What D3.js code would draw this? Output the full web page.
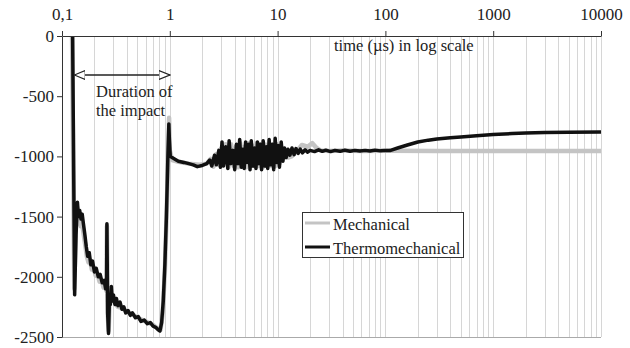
<!DOCTYPE html>
<html>
<head>
<meta charset="utf-8">
<script src="https://cdn.jsdelivr.net/npm/d3@7"></script>
<style>
  body { margin: 0; background: #fff; }
  svg text { font-family: "Liberation Serif", "Times New Roman", Times, "DejaVu Serif", serif; fill: #222; }
</style>
</head>
<body>
<svg id="chart" width="630" height="348"></svg>
<script>
// time (us) and stress values
const thermoTime = [0.1255, 0.131, 0.135, 0.139, 0.142, 0.146, 0.150, 0.154, 0.158, 0.163, 0.168, 0.173, 0.179, 0.185, 0.192, 0.200, 0.208, 0.217, 0.226, 0.236, 0.246, 0.254, 0.259, 0.261, 0.265, 0.270, 0.276, 0.281, 0.287, 0.293, 0.300, 0.31, 0.32, 0.33, 0.345, 0.36, 0.375, 0.39, 0.41, 0.43, 0.45, 0.48, 0.51, 0.54, 0.58, 0.62, 0.66, 0.70, 0.74, 0.78, 0.81, 0.84, 0.87, 0.90, 0.93, 0.96, 0.98, 0.99, 1.01, 1.05, 1.2, 1.35, 1.5, 1.65, 1.8, 2.0, 2.2,
  2.35, 2.45, 2.6, 2.7, 2.85, 2.95, 3.05, 3.15, 3.3, 3.45, 3.55, 3.7, 3.85, 4.0, 4.15, 4.3, 4.45, 4.6, 4.75, 4.9, 5.05, 5.2, 5.4, 5.55, 5.7, 5.9, 6.1, 6.3, 6.5, 6.7, 6.9, 7.1, 7.35, 7.6, 7.85, 8.1, 8.35, 8.6, 8.9, 9.2, 9.5, 9.8, 10.1, 10.4, 10.8, 11.2, 11.6, 12.0, 12.5, 13.0, 13.6, 14.2, 14.8, 15.5, 16.2, 17, 18, 19, 20, 22, 24, 26, 28, 31, 34, 38, 42, 47, 52, 58, 65, 72, 80, 90, 100, 110,
  130, 160, 200, 250, 300, 400, 500, 700, 1000, 1500, 2000, 3000, 5000, 10000];
const thermoValue = [0, -2150, -1650, -1380, -1500, -1450, -1520, -1480, -1560, -1650, -1750, -1830, -1800, -1900, -1870, -1960, -1930, -2000, -1980, -2050, -2030, -2100, -2080, -1560, -2300, -2470, -2150, -2230, -2080, -2200, -2150, -2230, -2180, -2240, -2210, -2270, -2250, -2300, -2280, -2320, -2300, -2340, -2330, -2370, -2360, -2390, -2380, -2410, -2420, -2440, -2450, -2380, -2200, -1900, -1500, -1000, -730, -850, -1000, -1010, -1040, -1050, -1060, -1070, -1085, -1075, -1060,
  -1030, -1080, -990, -1070, -950, -1090, -880, -1080, -920, -1100, -870, -1060, -950, -1110, -900, -1060, -860, -1090, -940, -1100, -880, -1050, -900, -1110, -870, -1080, -930, -1100, -880, -1060, -900, -1110, -870, -1080, -920, -1100, -860, -1070, -900, -1110, -850, -1050, -910, -1090, -880, -1040, -930, -1010, -940, -990, -930, -985, -935, -975, -940, -970, -945, -965, -950, -960, -945, -958, -948, -960, -950, -958, -948, -957, -950, -956, -950, -955, -948, -954, -950, -952,
  -930, -905, -880, -865, -855, -845, -838, -828, -818, -810, -806, -802, -799, -797];

const mechTime = [0.124, 0.130, 0.134, 0.138, 0.141, 0.145, 0.149, 0.154, 0.159, 0.164, 0.170, 0.176, 0.182, 0.189, 0.197, 0.205, 0.214, 0.223, 0.233, 0.243, 0.252, 0.259, 0.261, 0.266, 0.271, 0.277, 0.285, 0.295, 0.31, 0.33, 0.36, 0.40, 0.45, 0.50, 0.56, 0.63, 0.70, 0.77, 0.82, 0.86, 0.90, 0.94, 0.97, 0.985, 1.0, 1.05, 1.2, 1.5, 1.9, 2.2,
  2.4, 2.55, 2.7, 2.85, 3.0, 3.15, 3.3, 3.5, 3.7, 3.9, 4.1, 4.3, 4.5, 4.7, 4.9, 5.1, 5.35, 5.6, 5.85, 6.1, 6.4, 6.7, 7.0, 7.3, 7.6, 7.9, 8.3, 8.7, 9.1, 9.5, 9.9, 10.4, 11.0, 11.6, 12.5, 13.5, 15, 16.8, 19, 21, 23, 25, 30, 40, 60, 100, 300, 1000, 10000];
const mechValue = [0, -2100, -1600, -1420, -1560, -1500, -1580, -1560, -1650, -1730, -1830, -1880, -1860, -1940, -1920, -1990, -1980, -2040, -2030, -2090, -2080, -2120, -1580, -2320, -2450, -2180, -2200, -2170, -2220, -2250, -2260, -2290, -2310, -2340, -2360, -2380, -2400, -2430, -2440, -2300, -1950, -1400, -900, -680, -950, -1030, -1045, -1060, -1070, -1060,
  -1020, -1085, -980, -1070, -930, -1060, -900, -1090, -900, -1080, -920, -1090, -890, -1070, -920, -1090, -890, -1080, -910, -1080, -890, -1080, -900, -1090, -900, -1080, -890, -1080, -900, -1080, -900, -1060, -930, -1000, -1010, -1000, -960, -905, -920, -890, -930, -950, -956, -950, -955, -953, -955, -955, -955];

const xTicks = [0.1, 1, 10, 100, 1000, 10000];
const yTicks = [0, -500, -1000, -1500, -2000, -2500];
const seriesNames = ['Mechanical', 'Thermomechanical'];

const serif = '"Liberation Serif", "Times New Roman", Times, "DejaVu Serif", serif';
const svg = d3.select('#chart');
const x = d3.scaleLog().domain([0.1, 10000]).range([62, 601]);
const y = d3.scaleLinear().domain([-2500, 0]).range([337, 36]);

// vertical log grid
const grid = [];
for (let dec = 0.1; dec < 10000; dec *= 10) {
  for (let k = 1; k <= 10; k++) grid.push(+(dec * k).toPrecision(3));
}
svg.append('g').selectAll('line')
  .data(grid.filter(d => d > 0.1))
  .enter().append('line')
  .attr('x1', d => Math.round(x(d)) + 0.5).attr('x2', d => Math.round(x(d)) + 0.5)
  .attr('y1', y(0)).attr('y2', y(-2500))
  .style('stroke', '#d6d6d6').style('stroke-width', 1);

// bottom line
svg.append('line')
  .attr('x1', x(0.1)).attr('x2', x(10000))
  .attr('y1', y(-2500) + 0.5).attr('y2', y(-2500) + 0.5)
  .style('stroke', '#aaa');

const line = d3.line().x(d => x(d[0])).y(d => y(d[1]));
const mech = mechTime.map((t, i) => [t, mechValue[i]]);
const thermo = thermoTime.map((t, i) => [t, thermoValue[i]]);

svg.append('path').datum(mech).attr('d', line)
  .style('fill', 'none').style('stroke', '#c4c4c4').style('stroke-width', 4.5)
  .style('stroke-linejoin', 'round');
svg.append('path').datum(thermo).attr('d', line)
  .style('fill', 'none').style('stroke', '#111').style('stroke-width', 3.5)
  .style('stroke-linejoin', 'round');

// axes
const xAxis = svg.append('g').attr('transform', 'translate(0,' + y(0) + ')')
  .call(d3.axisTop(x).tickValues(xTicks).tickSize(5).tickPadding(11).tickSizeOuter(0)
    .tickFormat(d => d === 0.1 ? '0,1' : String(d)));
const yAxis = svg.append('g').attr('transform', 'translate(' + x(0.1) + ',0)')
  .call(d3.axisLeft(y).tickValues(yTicks).tickSize(5).tickPadding(3).tickSizeOuter(0)
    .tickFormat(d => String(d)));
[xAxis, yAxis].forEach(a => {
  a.attr('font-family', serif).attr('font-size', 17);
  a.select('.domain').style('stroke', '#333');
  a.selectAll('.tick line').style('stroke', '#333');
  a.selectAll('text').style('font-family', serif)
    .style('font-size', '17px').style('fill', '#222');
});

// axis title
svg.append('text').attr('x', 334).attr('y', 51)
  .style('font-family', serif).style('font-size', '16.5px').text('time (µs) in log scale');

// duration arrow
const arrowY = 75;
const defs = svg.append('defs');
defs.append('marker').attr('id', 'head').attr('viewBox', '0 0 12 10')
  .attr('refX', 11).attr('refY', 5).attr('markerWidth', 12).attr('markerHeight', 10)
  .attr('markerUnits', 'userSpaceOnUse').attr('orient', 'auto-start-reverse')
  .append('path').attr('d', 'M0,0.5 L11,5 L0,9.5 Z')
  .style('fill', '#fff').style('stroke', '#222').style('stroke-width', 1.2);
svg.append('line')
  .attr('x1', x(0.13)).attr('x2', x(1))
  .attr('y1', arrowY).attr('y2', arrowY)
  .style('stroke', '#222').style('stroke-width', 1.5)
  .attr('marker-start', 'url(#head)').attr('marker-end', 'url(#head)');
svg.append('text').attr('x', 96).attr('y', 97).style('font-family', serif).style('font-size', '16.5px').text('Duration of');
svg.append('text').attr('x', 96).attr('y', 116).style('font-family', serif).style('font-size', '16.5px').text('the impact');

// legend
const lg = svg.append('g');
lg.append('rect').attr('x', 302.5).attr('y', 212.5).attr('width', 161).attr('height', 45)
  .style('fill', '#fff').style('stroke', '#333').style('stroke-width', 1);
const legendColors = ['#c4c4c4', '#111'];
seriesNames.forEach((name, i) => {
  const ly = 223 + i * 24;
  lg.append('line').attr('x1', 305).attr('x2', 330).attr('y1', ly).attr('y2', ly)
    .style('stroke', legendColors[i]).style('stroke-width', 3);
  lg.append('text').attr('x', 333).attr('y', ly + 7).style('font-family', serif).style('font-size', '16.5px').text(name);
});
</script>
</body>
</html>
